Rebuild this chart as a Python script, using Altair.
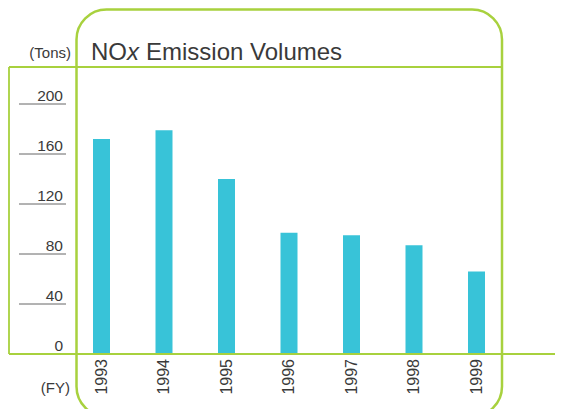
import altair as alt
import pandas as pd

# ---- data ----
years = ["1993", "1994", "1995", "1996", "1997", "1998", "1999"]
nox_tons = [172, 179, 140, 97, 95, 87, 66]
tick_values = [0, 40, 80, 120, 160, 200]

# ---- style ----
W, H = 547, 401
GREEN = "#a8d13e"
BAR = "#38c3d8"
TXT = "#3a3a3a"
FONT = "Liberation Sans"

bars_df = pd.DataFrame({"year": years, "nox": nox_tons})
ticks_df = pd.DataFrame({"v": tick_values, "label": [str(v) for v in tick_values]})
one = pd.DataFrame({"d": [0]})

x_scale = alt.Scale(domain=years, range=[62.25, 499.75], paddingInner=0, paddingOuter=0)
y_scale = alt.Scale(domain=[0, 200], range=[346, 96], nice=False, zero=True)

bars = alt.Chart(bars_df).mark_bar(size=17, color=BAR).encode(
    x=alt.X("year:N", scale=x_scale, axis=None),
    y=alt.Y("nox:Q", scale=y_scale, axis=None),
)

year_labels = alt.Chart(bars_df).mark_text(
    angle=270, align="right", baseline="middle", fontSize=16, font=FONT, color=TXT
).encode(
    x=alt.X("year:N", scale=x_scale, axis=None),
    y=alt.value(351),
    text="year:N",
)

tick_rules = alt.Chart(ticks_df).transform_filter("datum.v > 0").mark_rule(
    color="#666666", strokeWidth=1
).encode(
    y=alt.Y("v:Q", scale=y_scale, axis=None),
    x=alt.value(11),
    x2=alt.value(58),
)

tick_labels = alt.Chart(ticks_df).mark_text(
    align="right", baseline="alphabetic", dy=-3, fontSize=15.5, font=FONT, color=TXT
).encode(
    y=alt.Y("v:Q", scale=y_scale, axis=None),
    x=alt.value(55),
    text="label:N",
)

frame_box = alt.Chart(one).mark_rect(
    cornerRadius=30, fillOpacity=0, stroke=GREEN, strokeWidth=2.5
).encode(
    x=alt.value(68.5), x2=alt.value(494), y=alt.value(1.5), y2=alt.value(408.5)
)

top_line = alt.Chart(one).mark_rule(color=GREEN, strokeWidth=1.8).encode(
    x=alt.value(1), x2=alt.value(494), y=alt.value(59)
)
left_line = alt.Chart(one).mark_rule(color=GREEN, strokeWidth=1.8).encode(
    x=alt.value(1), y=alt.value(59), y2=alt.value(346)
)
bottom_line = alt.Chart(one).mark_rule(color=GREEN, strokeWidth=1.8).encode(
    x=alt.value(1), x2=alt.value(W), y=alt.value(346)
)


def txt(s, x, y, size=15, align="left", style="normal"):
    return alt.Chart(one).mark_text(
        text=s, align=align, baseline="alphabetic", fontSize=size, font=FONT,
        color=TXT, fontStyle=style
    ).encode(x=alt.value(x), y=alt.value(y))


title_no = txt("NO", 83, 51.5, size=24)
title_x = txt("x", 119, 51.5, size=24, style="italic")
title_rest = txt("Emission Volumes", 138, 51.5, size=24)
tons = txt("(Tons)", 63, 49.5, align="right")
fy = txt("(FY)", 62, 385, align="right")

chart = alt.layer(
    bars, frame_box, top_line, left_line, bottom_line,
    tick_rules, tick_labels, year_labels,
    title_no, title_x, title_rest, tons, fy,
).properties(
    width=W, height=H, padding=0, autosize=alt.AutoSizeParams(type="none")
).configure_view(stroke=None)

chart.save("out.html", embed_options={"renderer": "svg", "actions": False})
